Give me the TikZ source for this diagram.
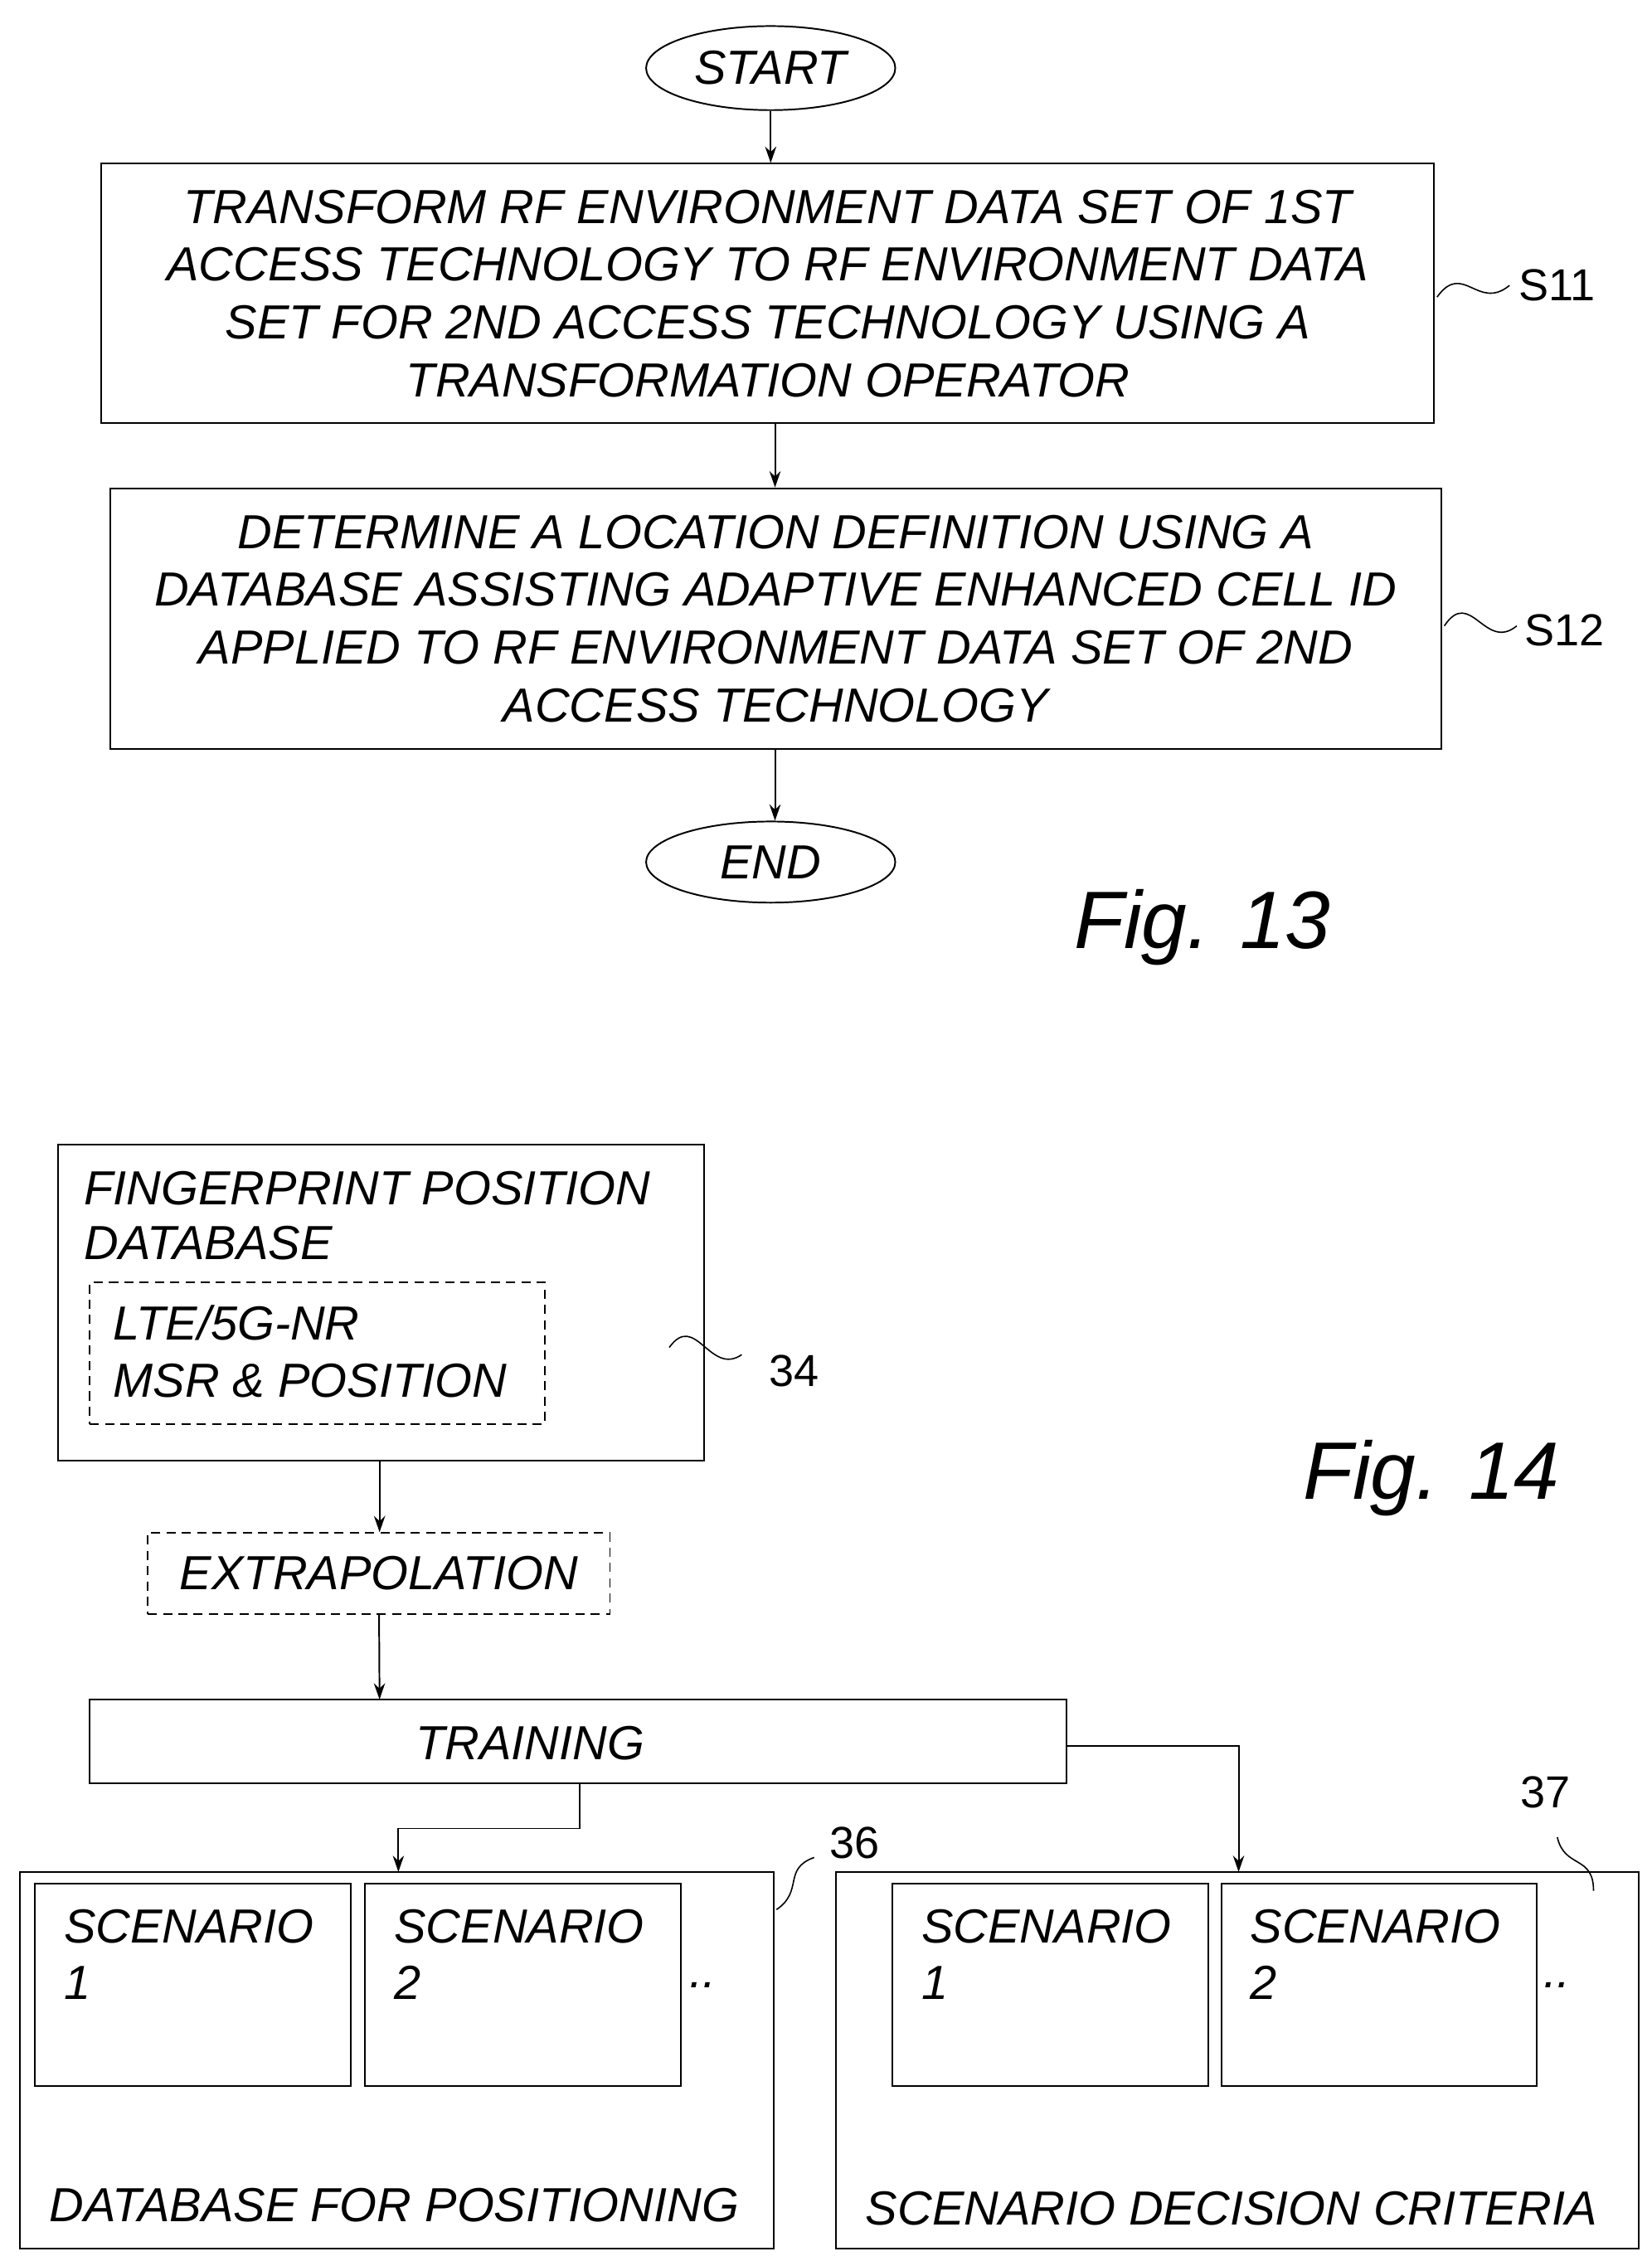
\documentclass[tikz,border=0pt]{standalone}
\usepackage{fontspec}
\setmainfont{Liberation Sans}
\usetikzlibrary{arrows.meta,shapes.geometric}
\begin{document}
\begin{tikzpicture}[x=0.05cm,y=-0.05cm,
 every node/.style={font=\fontsize{47}{56.7}\selectfont\itshape, inner sep=0pt},
 box/.style={draw, line width=1.6pt},
 dbox/.style={draw, line width=1.4pt, dash pattern=on 9pt off 6pt},
 arr/.style={line width=1.6pt,-{Stealth[length=16pt,width=11pt]}},
 sq/.style={line width=1.3pt},
 lab/.style={font=\fontsize{44}{50}\selectfont},
 fig/.style={font=\fontsize{80}{90}\selectfont\itshape}]
\useasboundingbox (0,0) rectangle (1140,1564);
\node[draw,ellipse,line width=1.6pt,minimum width=172*0.05cm,minimum height=58*0.05cm] (start) at (532,47) {START};
\node[box,minimum width=920*0.05cm,minimum height=179*0.05cm,align=center] (b1) at (530,202.5)
 {TRANSFORM RF ENVIRONMENT DATA SET OF 1ST\\ACCESS TECHNOLOGY TO RF ENVIRONMENT DATA\\SET FOR 2ND ACCESS TECHNOLOGY USING A\\TRANSFORMATION OPERATOR};
\node[box,minimum width=919*0.05cm,minimum height=180*0.05cm,align=center] (b2) at (535.5,427)
 {DETERMINE A LOCATION DEFINITION USING A\\DATABASE ASSISTING ADAPTIVE ENHANCED CELL ID\\APPLIED TO RF ENVIRONMENT DATA SET OF 2ND\\ACCESS TECHNOLOGY};
\node[draw,ellipse,line width=1.6pt,minimum width=172*0.05cm,minimum height=56*0.05cm] (end) at (532,595) {END};
\draw[arr] (start) -- (start|-b1.north);
\draw[arr] (535,292) coordinate (c1) -- (c1|-b2.north);
\draw[arr] (535,517) coordinate (c2) -- (c2|-end.north);
\coordinate (s11a) at (992,205); \coordinate (s11b) at (1042,197);
\draw[sq] (s11a) .. controls (1010,180) and (1020,215) .. (s11b);
\node[lab] (l11) at (1075,197) {S11};
\coordinate (s12a) at (997,432); \coordinate (s12b) at (1047,432);
\draw[sq] (s12a) .. controls (1015,405) and (1025,450) .. (s12b);
\node[lab] (l12) at (1080,435) {S12};
\node[fig] (f13) at (830,640) {Fig. 13};
% Fig 14
\node[box,minimum width=446*0.05cm,minimum height=218*0.05cm] (fp) at (263,899) {};
\node[anchor=west] (fpt1) at (58,820) {FINGERPRINT POSITION};
\node[anchor=west] (fpt2) at (58,858) {DATABASE};
\node[dbox,minimum width=314*0.05cm,minimum height=98*0.05cm] (lte) at (219,934) {};
\node[anchor=west] (lt1) at (78,913) {LTE/5G-NR};
\node[anchor=west] (lt2) at (78,953) {MSR \& POSITION};
\coordinate (s34a) at (462,930); \coordinate (s34b) at (512,935);
\draw[sq] (s34a) .. controls (480,905) and (490,950) .. (s34b);
\node[lab] (l34) at (548,946) {34};
\node[fig] (f14) at (988,1020) {Fig. 14};
\node[dbox,minimum width=319*0.05cm,minimum height=56*0.05cm] (ex) at (261.5,1086) {EXTRAPOLATION};
\node[box,minimum width=674*0.05cm,minimum height=58*0.05cm] (tr) at (399,1202) {};
\node (trt) at (366,1203) {TRAINING};
\draw[arr] (262,1008) coordinate (c3) -- (c3|-ex.north);
\draw[arr] (ex) -- (262,1173);
\node[box,minimum width=520*0.05cm,minimum height=260*0.05cm] (db) at (274,1422) {};
\node[box,minimum width=554*0.05cm,minimum height=260*0.05cm] (sc) at (854,1422) {};
\draw[arr] (400,1231) |- (275,1262) -- (275,1292);
\draw[arr] (736,1205) -| (855,1292);
\foreach \n/\x/\t in {d1/133/1,d2/361/2,s1/725/1,s2/952/2}{
 \node[box,minimum width=218*0.05cm,minimum height=140*0.05cm] (\n) at (\x,1370) {};
 \node[anchor=west,align=left,font=\fontsize{47}{55}\selectfont\itshape] at (\x-89,1349) {SCENARIO\\\t};
}
\node (dd1) at (485,1370) {..};
\node (dd2) at (1075,1370) {..};
\node (dbt) at (272,1522) {DATABASE FOR POSITIONING};
\node (sct) at (850,1524) {SCENARIO DECISION CRITERIA};
\coordinate (s36a) at (536,1318); \coordinate (s36b) at (562,1282);
\draw[sq] (s36a) .. controls (555,1305) and (540,1290) .. (s36b);
\node[lab] (l36) at (590,1272) {36};
\coordinate (s37a) at (1100,1305); \coordinate (s37b) at (1075,1268);
\draw[sq] (s37a) .. controls (1100,1280) and (1080,1290) .. (s37b);
\node[lab] (l37) at (1067,1237) {37};
\end{tikzpicture}
\end{document}
